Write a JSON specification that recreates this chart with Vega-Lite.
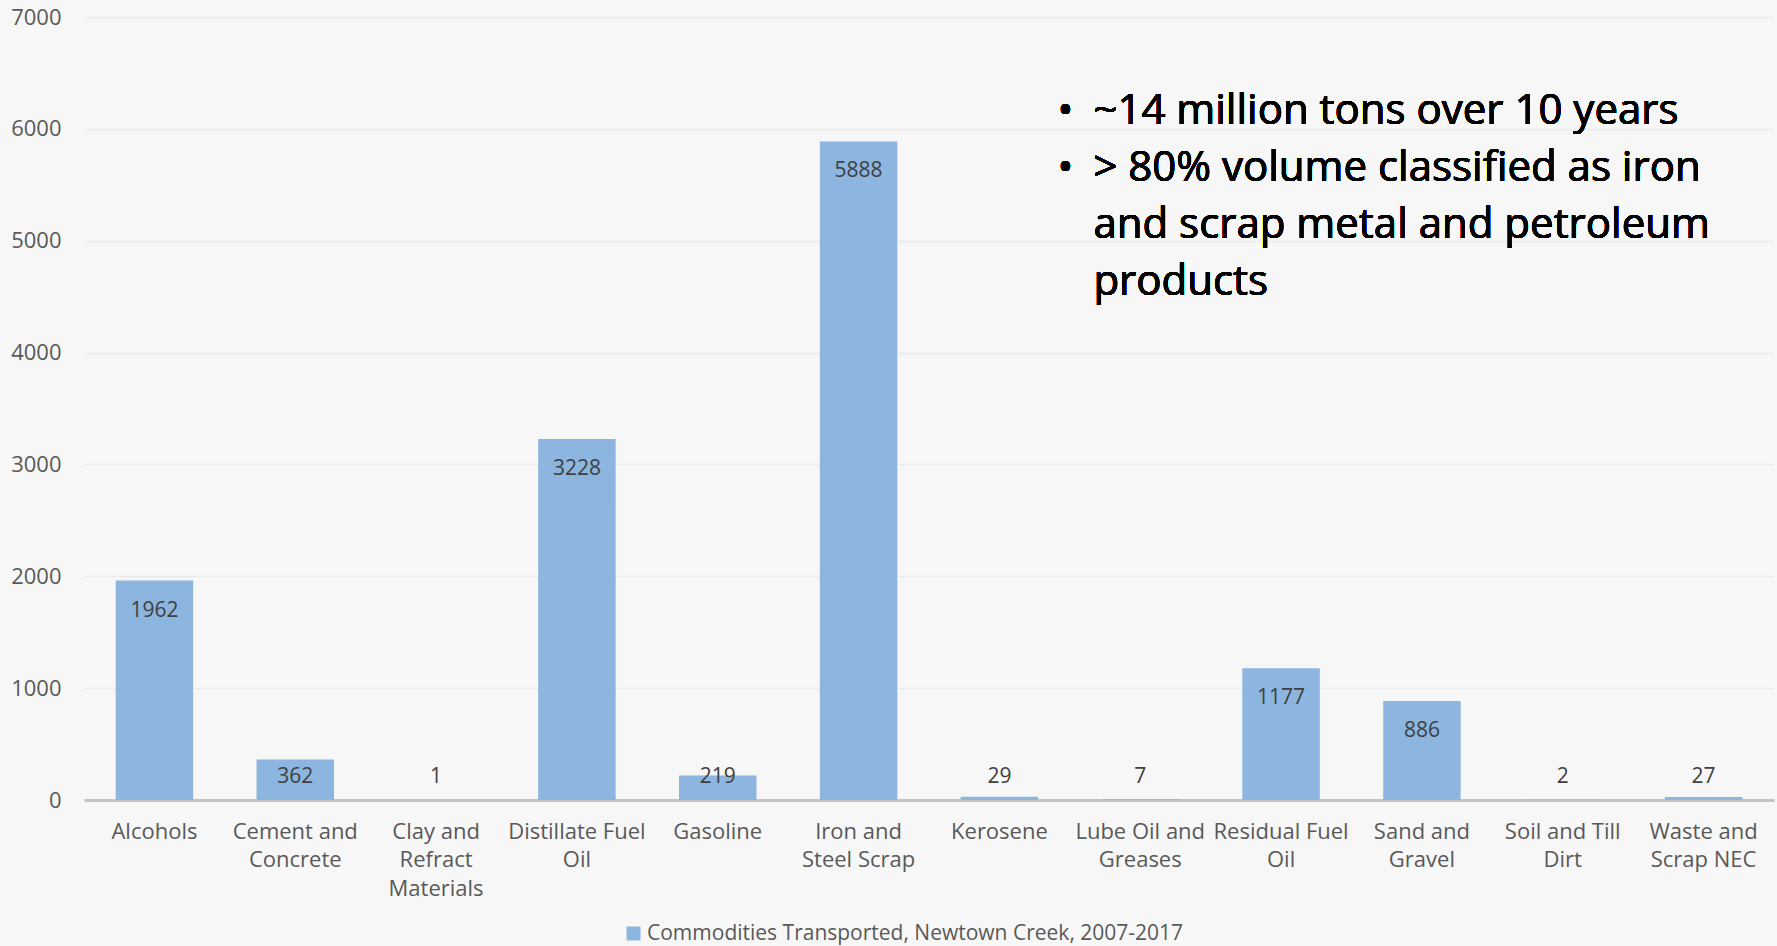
{
  "$schema": "https://vega.github.io/schema/vega-lite/v6.json",
  "autosize": "none",
  "width": 1690,
  "height": 783,
  "padding": {"left": 84, "top": 17, "right": 3, "bottom": 146},
  "background": "#f7f7f7",
  "config": {
    "view": {"stroke": null},
    "font": "Open Sans"
  },
  "data": {
    "values": [
      {"commodity": "Alcohols", "tons": 1962, "series": "Commodities Transported, Newtown Creek, 2007-2017"},
      {"commodity": "Cement and Concrete", "tons": 362, "series": "Commodities Transported, Newtown Creek, 2007-2017"},
      {"commodity": "Clay and Refract Materials", "tons": 1, "series": "Commodities Transported, Newtown Creek, 2007-2017"},
      {"commodity": "Distillate Fuel Oil", "tons": 3228, "series": "Commodities Transported, Newtown Creek, 2007-2017"},
      {"commodity": "Gasoline", "tons": 219, "series": "Commodities Transported, Newtown Creek, 2007-2017"},
      {"commodity": "Iron and Steel Scrap", "tons": 5888, "series": "Commodities Transported, Newtown Creek, 2007-2017"},
      {"commodity": "Kerosene", "tons": 29, "series": "Commodities Transported, Newtown Creek, 2007-2017"},
      {"commodity": "Lube Oil and Greases", "tons": 7, "series": "Commodities Transported, Newtown Creek, 2007-2017"},
      {"commodity": "Residual Fuel Oil", "tons": 1177, "series": "Commodities Transported, Newtown Creek, 2007-2017"},
      {"commodity": "Sand and Gravel", "tons": 886, "series": "Commodities Transported, Newtown Creek, 2007-2017"},
      {"commodity": "Soil and Till Dirt", "tons": 2, "series": "Commodities Transported, Newtown Creek, 2007-2017"},
      {"commodity": "Waste and Scrap NEC", "tons": 27, "series": "Commodities Transported, Newtown Creek, 2007-2017"}
    ]
  },
  "encoding": {
    "x": {
      "field": "commodity",
      "type": "nominal",
      "sort": null,
      "scale": {"paddingInner": 0.45, "paddingOuter": 0.225},
      "axis": {
        "title": null,
        "labelAngle": 0,
        "labelFont": "Open Sans",
        "labelFontSize": 22,
        "labelColor": "#595959",
        "labelLineHeight": 28.5,
        "labelPadding": 21,
        "labelBaseline": "top",
        "labelLimit": 300,
        "ticks": false,
        "domainColor": "#c4c4c4",
        "domainWidth": 3,
        "labelExpr": "datum.label == 'Cement and Concrete' ? ['Cement and', 'Concrete'] : datum.label == 'Clay and Refract Materials' ? ['Clay and', 'Refract', 'Materials'] : datum.label == 'Distillate Fuel Oil' ? ['Distillate Fuel', 'Oil'] : datum.label == 'Iron and Steel Scrap' ? ['Iron and', 'Steel Scrap'] : datum.label == 'Lube Oil and Greases' ? ['Lube Oil and', 'Greases'] : datum.label == 'Residual Fuel Oil' ? ['Residual Fuel', 'Oil'] : datum.label == 'Sand and Gravel' ? ['Sand and', 'Gravel'] : datum.label == 'Soil and Till Dirt' ? ['Soil and Till', 'Dirt'] : datum.label == 'Waste and Scrap NEC' ? ['Waste and', 'Scrap NEC'] : datum.label"
      }
    }
  },
  "layer": [
    {
      "mark": {"type": "bar"},
      "encoding": {
        "y": {
          "field": "tons",
          "type": "quantitative",
          "scale": {"domain": [0, 7000], "nice": false},
          "axis": {
            "title": null,
            "format": "d",
            "values": [0, 1000, 2000, 3000, 4000, 5000, 6000, 7000],
            "labelFont": "Open Sans",
            "labelFontSize": 22,
            "labelColor": "#595959",
            "labelPadding": 23,
            "ticks": false,
            "domain": false,
            "gridColor": "#ebebeb",
            "gridWidth": 1.5
          }
        },
        "color": {
          "field": "series",
          "type": "nominal",
          "scale": {"range": ["#8cb5e0"]},
          "legend": {
            "title": null,
            "orient": "none",
            "legendX": 539,
            "legendY": 906,
            "padding": 0,
            "direction": "horizontal",
            "symbolType": "square",
            "symbolSize": 196,
            "symbolStrokeWidth": 0,
            "labelFont": "Open Sans",
            "labelFontSize": 21,
            "labelColor": "#595959",
            "labelLimit": 800,
            "labelOffset": 3
          }
        }
      }
    },
    {
      "transform": [{"filter": "datum.tons >= 500"}],
      "mark": {"type": "text", "font": "Open Sans", "fontSize": 21, "color": "#404040", "baseline": "middle", "dy": 30},
      "encoding": {
        "y": {"field": "tons", "type": "quantitative"},
        "text": {"field": "tons", "type": "quantitative"}
      }
    },
    {
      "transform": [{"filter": "datum.tons < 500"}],
      "mark": {"type": "text", "font": "Open Sans", "fontSize": 21, "color": "#404040", "baseline": "middle", "dy": -23},
      "encoding": {
        "y": {"datum": 0},
        "text": {"field": "tons", "type": "quantitative"}
      }
    },
    {
      "mark": {"type": "text", "font": "Open Sans", "fontSize": 42, "fontWeight": "normal", "color": "#000000", "align": "left", "baseline": "alphabetic", "lineHeight": 57, "dx": 94,
        "text": ["~14 million tons over 10 years", "> 80% volume classified as iron", "and scrap metal and petroleum", "products"]},
      "encoding": {
        "x": {"datum": "Kerosene"},
        "y": {"datum": 6043}
      }
    },
    {
      "mark": {"type": "text", "font": "Open Sans", "fontSize": 42, "fontWeight": "normal", "color": "#000000", "align": "center", "baseline": "alphabetic", "lineHeight": 57, "dx": 66,
        "text": ["•", "•"]},
      "encoding": {
        "x": {"datum": "Kerosene"},
        "y": {"datum": 6043}
      }
    }
  ]
}
